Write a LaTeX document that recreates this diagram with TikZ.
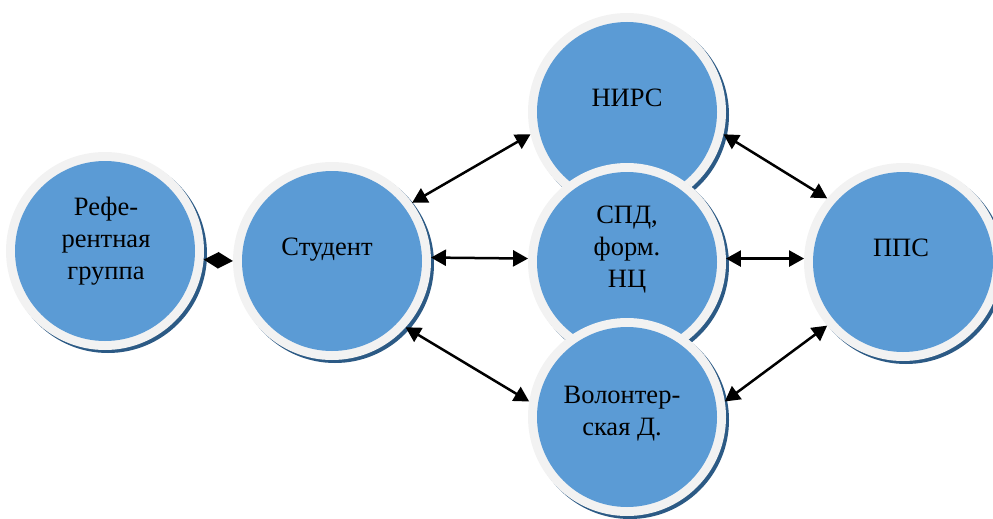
\documentclass[tikz,border=0pt]{standalone}
\usepackage{fontspec}
\setmainfont{Liberation Serif}
\newfontfamily\tnr{Liberation Serif}
\usetikzlibrary{arrows.meta}
\definecolor{cblue}{HTML}{5B9BD5}
\definecolor{cring}{HTML}{F2F2F2}
\definecolor{cshadow}{HTML}{2C5A85}
\begin{document}
\begin{tikzpicture}[x=1pt,y=-1pt,
  bub/.style={circle, minimum size=198pt, inner sep=0pt, outer sep=0pt, fill=cring,
    preaction={fill=cshadow, transform canvas={shift={(3pt,-3pt)}}},
    path picture={\fill[cblue] (path picture bounding box.center) circle (90pt);}},
  lbl/.style={font=\tnr\fontsize{26.5}{32}\selectfont, align=center, text=black, inner sep=0pt},
  link/.style={{Triangle[length=15pt,width=16pt]}-{Triangle[length=15pt,width=16pt]}, line width=2.5pt, black}]
\useasboundingbox (0,0) rectangle (993,519);
\node[bub] (ref) at (105,251) {};
\node[bub] (stud) at (332,261) {};
\node[bub] (nirs) at (627,112) {};
\node[bub] (spd) at (627,262) {};
\node[bub] (vol) at (627,417) {};
\node[bub] (pps) at (903,262) {};
\node[lbl] (tref) at (106,241) {Рефе-\\рентная\\группа};
\node[lbl] (tstud) at (327,250) {Студент};
\node[lbl] (tnirs) at (627,98) {НИРС};
\node[lbl] (tspd) at (627,250) {СПД,\\форм.\\НЦ};
\node[lbl] (tvol) at (622,414) {Волонтер-\\ская Д.};
\node[lbl] (tpps) at (901,248) {ППС};
\draw[link] (ref.-5) -- (stud.180);
\draw[link] (stud.36) -- (nirs.193);
\draw[link] (stud.2) -- (spd.178);
\draw[link] (stud.-42) -- (vol.171);
\draw[link] (nirs.-13) -- (pps.140);
\draw[link] (spd.2) -- (pps.178);
\draw[link] (vol.9) -- (pps.220);
\end{tikzpicture}
\end{document}
